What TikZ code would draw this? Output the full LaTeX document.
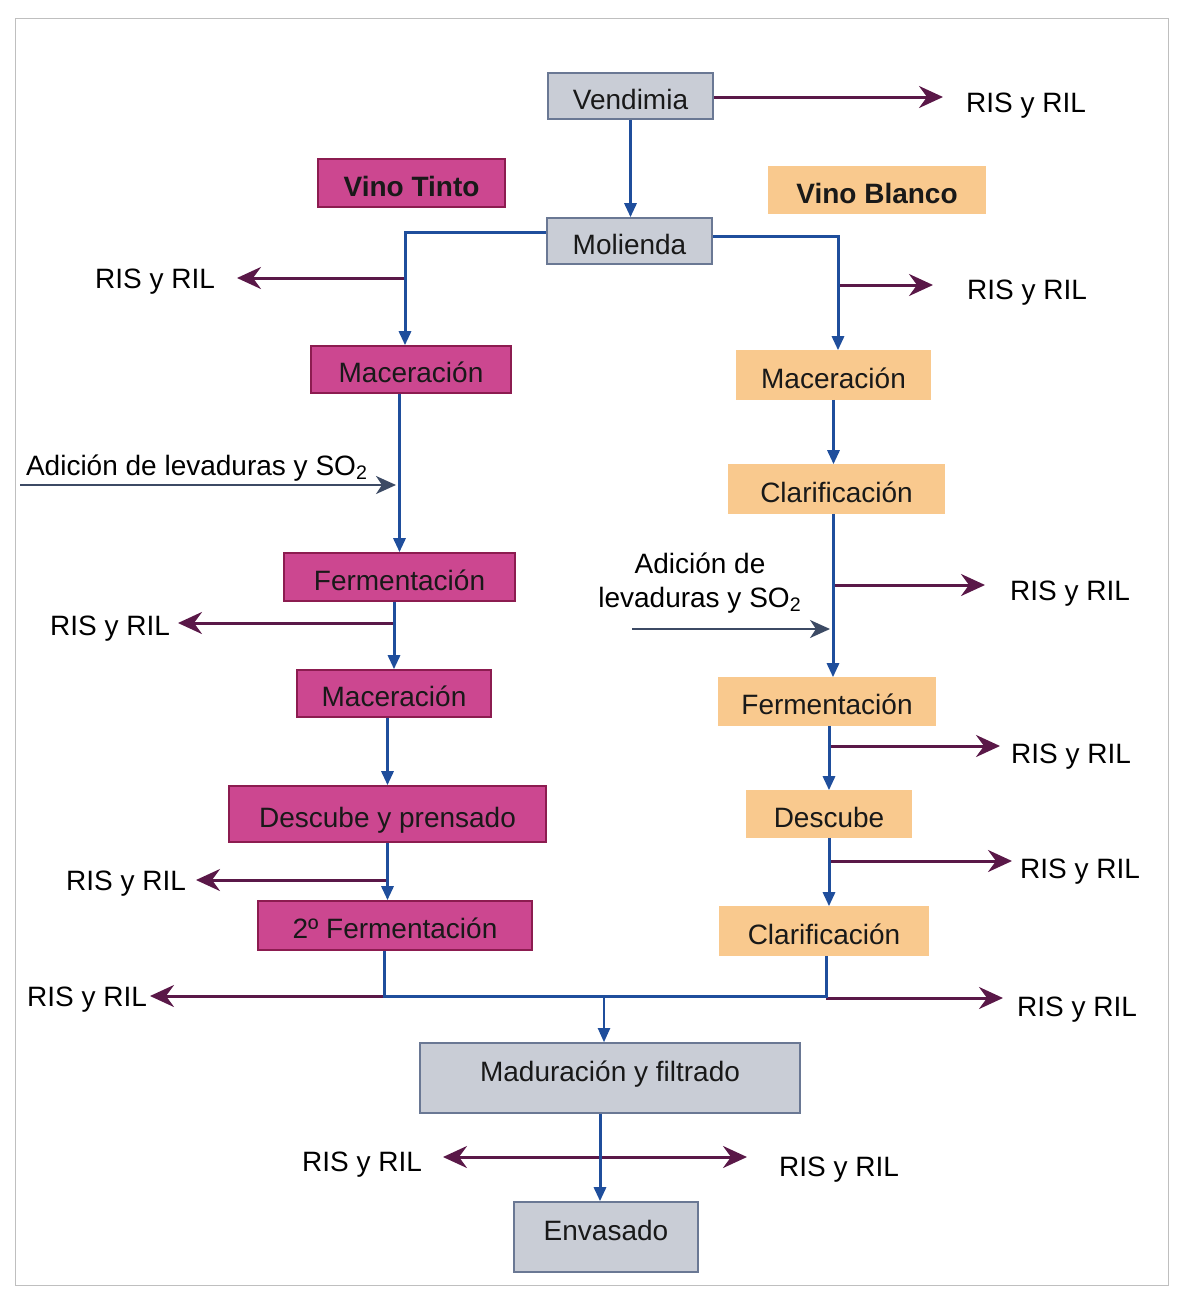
\documentclass[tikz,border=0pt]{standalone}
\usepackage{fontspec}
\setmainfont{Liberation Sans}
\usetikzlibrary{arrows.meta}
\definecolor{flowblue}{HTML}{1F4E9C}
\definecolor{wastep}{HTML}{5A1848}
\definecolor{addc}{HTML}{3C4A64}
\definecolor{grayfill}{HTML}{C9CDD6}
\definecolor{grayline}{HTML}{6A7894}
\definecolor{magfill}{HTML}{CC4790}
\definecolor{magline}{HTML}{8C1C50}
\definecolor{orfill}{HTML}{F9C98E}
\begin{document}
\begin{tikzpicture}[x=0.5pt,y=-0.5pt,
 box/.style={draw, line width=0.8pt, inner sep=0pt, font=\fontsize{14}{16}\selectfont, text=black!90, text height=13pt, text depth=0pt},
 gbox/.style={box, fill=grayfill, draw=grayline},
 mbox/.style={box, fill=magfill, draw=magline},
 obox/.style={box, fill=orfill, draw=orfill},
 lab/.style={font=\fontsize{14}{16}\selectfont, inner sep=0pt, yshift=-1.5pt},
 flow/.style={draw=flowblue, line width=1.5pt, -{Triangle[length=7pt,width=6pt]}},
 fline/.style={draw=flowblue, line width=1.5pt},
 waste/.style={draw=wastep, line width=1.5pt, -{Stealth[length=12pt,width=11pt,inset=4pt]}},
 add/.style={draw=addc, line width=1.2pt, -{Stealth[length=10pt,width=9pt,inset=3pt]}}]

\useasboundingbox (0,0) rectangle (1180,1292);
\draw[black!25, line width=0.4pt] (15,18) rectangle (1168,1285);

% boxes
\node[gbox, minimum width=82.5pt, minimum height=23pt] (vend) at (630.5,96) {Vendimia};
\node[mbox, minimum width=93.5pt, minimum height=24pt, font=\fontsize{14}{16}\selectfont\bfseries] (tinto) at (411.5,183) {Vino Tinto};
\node[obox, minimum width=108pt, minimum height=23pt, font=\fontsize{14}{16}\selectfont\bfseries] (blanco) at (877,190) {Vino Blanco};
\node[gbox, minimum width=82.5pt, minimum height=23pt] (mol) at (629.5,241) {Molienda};
\node[mbox, minimum width=100pt, minimum height=23.5pt] (macL) at (411,369.5) {Maceración};
\node[mbox, minimum width=115.5pt, minimum height=24pt] (fermL) at (399.5,577) {Fermentación};
\node[mbox, minimum width=97pt, minimum height=23.5pt] (mac2) at (394,693.5) {Maceración};
\node[mbox, minimum width=158.5pt, minimum height=28pt] (desc) at (387.5,814) {Descube y prensado};
\node[mbox, minimum width=137pt, minimum height=24.5pt] (ferm2) at (395,925.5) {2º Fermentación};
\node[obox, minimum width=96.5pt, minimum height=24pt] (macR) at (833.5,375) {Maceración};
\node[obox, minimum width=107.5pt, minimum height=24pt] (clarR) at (836.5,489) {Clarificación};
\node[obox, minimum width=108pt, minimum height=23.5pt] (fermR) at (827,701.5) {Fermentación};
\node[obox, minimum width=82pt, minimum height=23pt] (descR) at (829,814) {Descube};
\node[obox, minimum width=104pt, minimum height=24pt] (clar2) at (824,931) {Clarificación};
\node[gbox, minimum width=190pt, minimum height=35pt, text depth=10pt] (madur) at (610,1078) {Maduración y filtrado};
\node[gbox, minimum width=92pt, minimum height=35pt, text depth=10pt] (env) at (606,1237) {Envasado};

% labels
\node[lab] (ris0) at (1026,103) {RIS y RIL};
\node[lab] (ris1) at (155,279) {RIS y RIL};
\node[lab] (ris2) at (1027,290) {RIS y RIL};
\node[lab] (add1) at (197,465) {Adición de levaduras y SO\textsubscript{2}};
\node[lab] (ris3) at (110,626) {RIS y RIL};
\node[lab, align=center] (add2) at (700,580) {Adición de\\[1pt]levaduras y SO\textsubscript{2}};
\node[lab] (ris4) at (1070,591) {RIS y RIL};
\node[lab] (ris5) at (1071,754) {RIS y RIL};
\node[lab] (ris6) at (126,881) {RIS y RIL};
\node[lab] (ris7) at (1080,869) {RIS y RIL};
\node[lab] (ris8) at (87,997) {RIS y RIL};
\node[lab] (ris9) at (1077,1007) {RIS y RIL};
\node[lab] (ris10) at (362,1162) {RIS y RIL};
\node[lab] (ris11) at (839,1167) {RIS y RIL};

% coordinates
\coordinate (t0) at (943,97);
\coordinate (jL) at (405,232);
\coordinate (jR) at (838,236);
\coordinate (w1) at (405,278);
\coordinate (t1) at (237,278);
\coordinate (w2) at (838,285);
\coordinate (t2) at (933,285);
\coordinate (a1s) at (20,485);
\coordinate (a1e) at (396,485);
\coordinate (w3) at (395,623);
\coordinate (t3) at (178,623);
\coordinate (w6) at (387,880);
\coordinate (t6) at (196,880);
\coordinate (b1) at (384,996);
\coordinate (b2) at (826,996);
\coordinate (t8) at (150,996);
\coordinate (t9) at (1003,998);
\coordinate (m0) at (604,996);
\coordinate (c1) at (833,0);
\coordinate (w4) at (833,585);
\coordinate (t4) at (985,585);
\coordinate (a2s) at (632,629);
\coordinate (a2e) at (830,629);
\coordinate (w5) at (830,746);
\coordinate (t5) at (1000,746);
\coordinate (w7) at (830,861);
\coordinate (t7) at (1012,861);
\coordinate (e1) at (600,1157);
\coordinate (t10) at (443,1157);
\coordinate (t11) at (747,1157);

% waste arrows
\draw[waste] (vend.east |- t0) -- (t0);
\draw[waste] (w1) -- (t1);
\draw[waste] (w2) -- (t2);
\draw[waste] (w3) -- (t3);
\draw[waste] (w6) -- (t6);
\draw[waste] (b1) -- (t8);
\draw[waste] (b2 |- t9) -- (t9);
\draw[waste] (w4) -- (t4);
\draw[waste] (w5) -- (t5);
\draw[waste] (w7) -- (t7);
\draw[waste] (e1) -- (t10);
\draw[waste] (e1) -- (t11);

% additions
\draw[add] (a1s) -- (a1e);
\draw[add] (a2s) -- (a2e);

% main flow
\draw[flow] (vend.south) -- (vend.south |- mol.north);
\draw[flow] (mol.west |- jL) -- (jL) -- (jL |- macL.north);
\draw[flow] (mol.east |- jR) -- (jR) -- (jR |- macR.north);
\draw[flow] (macL.south -| fermL.north) -- (fermL.north);
\draw[flow] (fermL.south -| mac2.north) -- (mac2.north);
\draw[flow] (mac2.south -| desc.north) -- (desc.north);
\draw[flow] (desc.south) -- (desc.south |- ferm2.north);
\draw[fline] (b1 |- ferm2.south) -- (b1) -- (b2) -- (b2 |- clar2.south);
\draw[flow, line width=1pt] (m0) -- (m0 |- madur.north);
\draw[flow] (macR.south) -- (macR.south |- clarR.north);
\draw[flow] (clarR.south -| c1) -- (fermR.north -| c1);
\draw[flow] (fermR.south -| descR.north) -- (descR.north);
\draw[flow] (descR.south) -- (descR.south |- clar2.north);
\draw[flow] (e1 |- madur.south) -- (e1 |- env.north);
\end{tikzpicture}
\end{document}
